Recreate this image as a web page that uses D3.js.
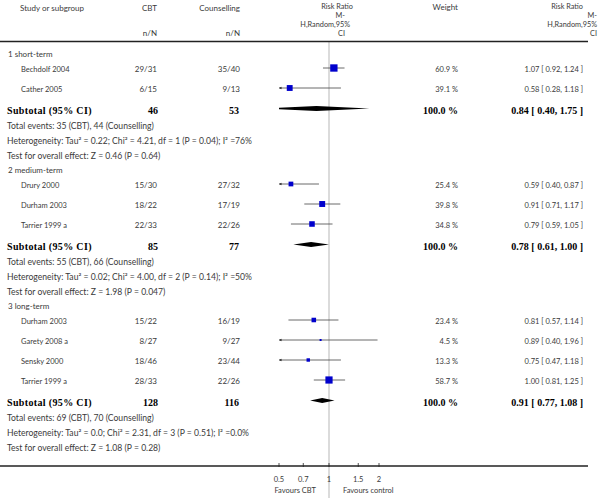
<!DOCTYPE html>
<html><head><meta charset="utf-8">
<script src="https://cdn.jsdelivr.net/npm/d3@7/dist/d3.min.js"></script>
<style>
body{margin:0;background:#fff;}
svg{display:block;}
.t{font-family:Lato,"Open Sans",sans-serif;font-size:7.5px;fill:#3a3a3a;}
.h{font-family:Lato,"Open Sans",sans-serif;font-size:8px;fill:#3a3a3a;}
.s{font-family:Lato,"Open Sans",sans-serif;font-size:7.3px;fill:#3a3a3a;}
.n{font-family:Lato,"Open Sans",sans-serif;font-size:8.6px;fill:#3a3a3a;}
.b{font-family:"Liberation Serif","Times New Roman",serif;font-size:10px;font-weight:bold;fill:#000;}
.bl{font-family:"Liberation Serif","Times New Roman",serif;font-size:10px;font-weight:bold;fill:#000;letter-spacing:0.35px;}
</style></head>
<body>
<svg id="c" width="600" height="501"></svg>
<script>
const groupLabels = ["1 short-term", "2 medium-term", "3 long-term"];
const studyGroup = [0, 0, 1, 1, 1, 2, 2, 2, 2];
const studyNames = ["Bechdolf 2004", "Cather 2005", "Drury 2000", "Durham 2003", "Tarrier 1999 a",
                    "Durham 2003", "Garety 2008 a", "Sensky 2000", "Tarrier 1999 a"];
const cbtNN  = ["29/31", "6/15", "15/30", "18/22", "22/33", "15/22", "8/27", "18/46", "28/33"];
const ctrlNN = ["35/40", "9/13", "27/32", "17/19", "22/26", "16/19", "9/27", "23/44", "22/26"];
const weights = [60.9, 39.1, 25.4, 39.8, 34.8, 23.4, 4.5, 13.3, 58.7];
const rr   = [1.07, 0.58, 0.59, 0.91, 0.79, 0.81, 0.89, 0.75, 1.00];
const ciLo = [0.92, 0.28, 0.40, 0.71, 0.59, 0.57, 0.40, 0.47, 0.81];
const ciHi = [1.24, 1.18, 0.87, 1.17, 1.05, 1.14, 1.96, 1.18, 1.25];
const subCBT  = [46, 85, 128];
const subCtrl = [53, 77, 116];
const subRR = [0.84, 0.78, 0.91];
const subLo = [0.40, 0.61, 0.77];
const subHi = [1.75, 1.00, 1.08];
const totalEvents = ["Total events: 35 (CBT), 44 (Counselling)",
                     "Total events: 55 (CBT), 66 (Counselling)",
                     "Total events: 69 (CBT), 70 (Counselling)"];
const heterogeneity = ["Heterogeneity: Tau\u00b2 = 0.22; Chi\u00b2 = 4.21, df = 1 (P = 0.04); I\u00b2 =76%",
                       "Heterogeneity: Tau\u00b2 = 0.02; Chi\u00b2 = 4.00, df = 2 (P = 0.14); I\u00b2 =50%",
                       "Heterogeneity: Tau\u00b2 = 0.0; Chi\u00b2 = 2.31, df = 3 (P = 0.51); I\u00b2 =0.0%"];
const overallTest = ["Test for overall effect: Z = 0.46 (P = 0.64)",
                     "Test for overall effect: Z = 1.98 (P = 0.047)",
                     "Test for overall effect: Z = 1.08 (P = 0.28)"];
const tickValues = [0.5, 0.7, 1, 1.5, 2];
const tickLabels = ["0.5", "0.7", "1", "1.5", "2"];

const svg = d3.select("#c");
const x = d3.scaleLog().domain([0.5, 2]).range([279, 379]);
const size = d3.scaleSqrt().domain([0, 100]).range([0, 9.4]);
const f2 = d3.format(".2f");
const rrText = (m, l, h) => `${f2(m)} [ ${f2(l)}, ${f2(h)} ]`;

// Build rows layout
const rows = [];
let y = 40;
groupLabels.forEach((g, gi) => {
  y += 14; rows.push({type: "label", y, text: g});
  let first = true;
  studyGroup.forEach((sg, i) => {
    if (sg !== gi) return;
    y += first ? 15 : 20; first = false;
    rows.push({type: "study", y, i});
  });
  y += 21; rows.push({type: "sub", y, g: gi});
  y += 16; rows.push({type: "note", y, text: totalEvents[gi]});
  y += 15; rows.push({type: "note", y, text: heterogeneity[gi]});
  y += 15; rows.push({type: "note", y, text: overallTest[gi]});
});

const txt = (xx, yy, s, anchor, cls) => svg.append("text").attr("class", cls || "t")
  .attr("x", xx).attr("y", yy).attr("dy", "0.35em").attr("text-anchor", anchor || "start").text(s);

// Headers
txt(20, 8, "Study or subgroup", "start", "h");
txt(157, 8, "CBT", "end", "h");
txt(240, 8, "Counselling", "end", "h");
txt(157, 33, "n/N", "end", "h");
txt(240, 33, "n/N", "end", "h");
[["Risk Ratio", 353, 6.5], ["M-", 345, 15.5], ["H,Random,95%", 350, 24.5], ["CI", 345, 33]]
  .forEach(d => txt(d[1], d[2], d[0], "end", "s"));
txt(458, 7, "Weight", "end", "h");
[["Risk Ratio", 583, 6.5], ["M-", 597, 15.5], ["H,Random,95%", 597, 24.5], ["CI", 597, 33]]
  .forEach(d => txt(d[1], d[2], d[0], "end", "s"));

// Reference line at 1
svg.append("line").attr("x1", x(1)).attr("x2", x(1)).attr("y1", 42).attr("y2", 498)
  .attr("stroke", "#cfcfcf").attr("stroke-width", 1.5);

// header separator
svg.append("line").attr("x1", 0).attr("x2", 588).attr("y1", 41.5).attr("y2", 41.5)
  .attr("stroke", "#222").attr("stroke-width", 1.3);

// clip
svg.append("clipPath").attr("id", "pc").append("rect")
  .attr("x", x(0.5)).attr("y", 40).attr("width", x(2) - x(0.5)).attr("height", 430);
const plot = svg.append("g").attr("clip-path", "url(#pc)");
const marks = svg.append("g");

rows.forEach(r => {
  if (r.type === "label") txt(8, r.y, r.text, "start", "h");
  else if (r.type === "note") txt(7, r.y, r.text, "start", "n");
  else if (r.type === "study") {
    const i = r.i;
    txt(21, r.y, studyNames[i]);
    txt(157, r.y, cbtNN[i], "end", "h");
    txt(240, r.y, ctrlNN[i], "end", "h");
    txt(458, r.y, d3.format(".1f")(weights[i]) + " %", "end");
    txt(583, r.y, rrText(rr[i], ciLo[i], ciHi[i]), "end");
    const my = r.y - 1;
    const lo = Math.max(ciLo[i], 0.5), hi = Math.min(ciHi[i], 2);
    marks.append("line").attr("x1", x(lo)).attr("x2", x(hi)).attr("y1", my).attr("y2", my)
      .attr("stroke", "#444").attr("stroke-width", 0.8);
    if (ciLo[i] < 0.5) {
      const ax = x(0.5);
      marks.append("path").attr("d", `M${ax},${my} L${ax + 2.5},${my - 1.2} L${ax + 2.5},${my + 1.2} Z`)
        .attr("fill", "#222");
    }
    if (ciHi[i] > 2) {
      const ax = x(2);
      marks.append("path").attr("d", `M${ax},${my} L${ax - 2.5},${my - 1.2} L${ax - 2.5},${my + 1.2} Z`)
        .attr("fill", "#222");
    }
    const s = Math.max(size(weights[i]), 1.2);
    marks.append("rect").attr("x", x(rr[i]) - s / 2).attr("y", my - s / 2)
      .attr("width", s).attr("height", s).attr("fill", "#0000cc");
  } else if (r.type === "sub") {
    const g = r.g;
    txt(7, r.y, "Subtotal (95% CI)", "start", "bl");
    txt(158, r.y, subCBT[g], "end", "b");
    txt(239, r.y, subCtrl[g], "end", "b");
    txt(458, r.y, "100.0 %", "end", "b");
    txt(583, r.y, rrText(subRR[g], subLo[g], subHi[g]), "end", "b");
    const my = r.y - 1.5, h = 2.6;
    plot.append("path")
      .attr("d", `M${x(subLo[g])},${my} L${x(subRR[g])},${my - h} L${x(subHi[g])},${my} L${x(subRR[g])},${my + h} Z`)
      .attr("fill", "#000");
  }
});

// axis
const axisY = 466;
svg.append("line").attr("x1", 0).attr("x2", 588).attr("y1", axisY).attr("y2", axisY)
  .attr("stroke", "#222").attr("stroke-width", 1.3);
tickValues.forEach((v, k) => {
  svg.append("line").attr("x1", x(v)).attr("x2", x(v)).attr("y1", axisY - 3).attr("y2", axisY + 1)
    .attr("stroke", "#222").attr("stroke-width", 0.8);
  txt(x(v), 479, tickLabels[k], "middle");
});
txt(316, 490, "Favours CBT", "end");
txt(343, 490, "Favours control", "start");
</script>
</body></html>
